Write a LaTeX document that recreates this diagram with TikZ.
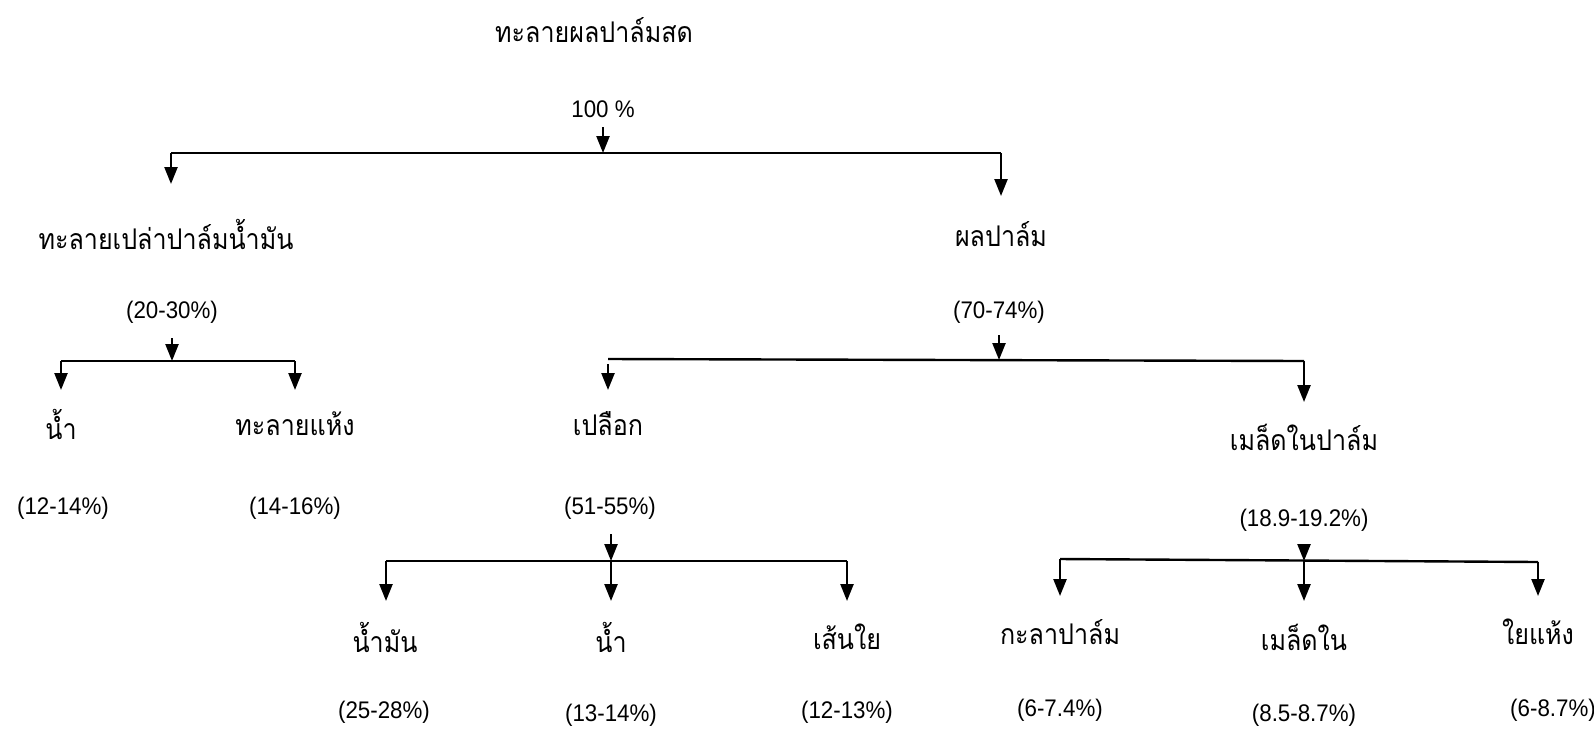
\documentclass[tikz,border=0pt]{standalone}
\usepackage{fontspec}
\setmainfont{Liberation Sans}
\newfontfamily\thaifont[Script=Thai,FakeStretch=0.88]{Loma}
\newfontfamily\pcfont[FakeStretch=0.93]{Liberation Sans}
\usetikzlibrary{arrows.meta}
\tikzset{
  arr/.style={line width=2.4pt,-{Triangle[width=13pt,length=17pt]}},
  barline/.style={line width=2.4pt},
  th/.style={font=\thaifont\fontsize{28.5}{33}\selectfont, inner sep=0pt, anchor=center},
  pc/.style={font=\pcfont\fontsize{24}{28}\selectfont, inner sep=0pt, anchor=center}
}
\begin{document}
\begin{tikzpicture}[x=1pt,y=-1pt]
\useasboundingbox (0,0) rectangle (1594,729);
% texts
\node[th] (t0) at (594,30) {ทะลายผลปาล์มสด};
\node[pc] (p0) at (603,109) {100 \%};
\node[th] (n1) at (166,234) {ทะลายเปล่าปาล์มน้ำมัน};
\node[th] (n2) at (1001,234) {ผลปาล์ม};
\node[pc] (p1) at (172,312) {(20-30\%)};
\node[pc] (p2) at (999,312) {(70-74\%)};
\node[th] (n11) at (61,424) {น้ำ};
\node[th] (n12) at (295,424) {ทะลายแห้ง};
\node[th] (n21) at (608,424) {เปลือก};
\node[th] (n22) at (1304,437) {เมล็ดในปาล์ม};
\node[pc] (p11) at (63,508) {(12-14\%)};
\node[pc] (p12) at (295,508) {(14-16\%)};
\node[pc] (p21) at (610,508) {(51-55\%)};
\node[pc] (p22) at (1304,520) {(18.9-19.2\%)};
\node[th] (n211) at (385,637) {น้ำมัน};
\node[th] (n212) at (611,637) {น้ำ};
\node[th] (n213) at (847,637) {เส้นใย};
\node[th] (n221) at (1060,632) {กะลาปาล์ม};
\node[th] (n222) at (1304,637) {เมล็ดใน};
\node[th] (n223) at (1538,632) {ใยแห้ง};
\node[pc] (p211) at (384,712) {(25-28\%)};
\node[pc] (p212) at (611,715) {(13-14\%)};
\node[pc] (p213) at (847,712) {(12-13\%)};
\node[pc] (p221) at (1060,710) {(6-7.4\%)};
\node[pc] (p222) at (1304,715) {(8.5-8.7\%)};
\node[pc] (p223) at (1553,710) {(6-8.7\%)};
% level 0
\coordinate (s0) at (603,127);
\coordinate (b0m) at (603,153);
\coordinate (b0l) at (171,153);
\coordinate (b0r) at (1001,153);
\coordinate (e1) at (171,184);
\coordinate (e2) at (1001,196);
\draw[arr] (s0) -- (b0m);
\draw[barline] (b0l) -- (b0r);
\draw[arr] (b0l) -- (e1);
\draw[arr] (b0r) -- (e2);
% level 1 left
\coordinate (s1) at (172,338);
\coordinate (b1m) at (172,361);
\coordinate (b1l) at (61,361);
\coordinate (b1r) at (295,361);
\coordinate (e11) at (61,390);
\coordinate (e12) at (295,390);
\draw[arr] (s1) -- (b1m);
\draw[barline] (b1l) -- (b1r);
\draw[arr] (b1l) -- (e11);
\draw[arr] (b1r) -- (e12);
% level 1 right
\coordinate (s2) at (999,335);
\coordinate (b2m) at (999,360);
\coordinate (b2l) at (608,359);
\coordinate (b2r) at (1304,361);
\coordinate (e21) at (608,390);
\coordinate (e22) at (1304,402);
\draw[arr] (s2) -- (b2m);
\draw[barline] (b2l) -- (b2r);
\draw[arr] (608,364) -- (e21);
\draw[arr] (b2r) -- (e22);
% level 2 left
\coordinate (s3) at (611,534);
\coordinate (b3m) at (611,561);
\coordinate (b3l) at (386,561);
\coordinate (b3r) at (847,561);
\coordinate (e211) at (386,601);
\coordinate (e212) at (611,601);
\coordinate (e213) at (847,601);
\draw[arr] (s3) -- (b3m);
\draw[barline] (b3l) -- (b3r);
\draw[arr] (b3l) -- (e211);
\draw[arr] (b3m) -- (e212);
\draw[arr] (b3r) -- (e213);
% level 2 right
\coordinate (s4) at (1304,544);
\coordinate (b4m) at (1304,561);
\coordinate (b4l) at (1060,559);
\coordinate (b4r) at (1538,562);
\coordinate (e221) at (1060,596);
\coordinate (e222) at (1304,601);
\coordinate (e223) at (1538,596);
\draw[arr] (s4) -- (b4m);
\draw[barline] (b4l) -- (b4r);
\draw[arr] (b4l) -- (e221);
\draw[arr] (b4m) -- (e222);
\draw[arr] (b4r) -- (e223);
\end{tikzpicture}
\end{document}
